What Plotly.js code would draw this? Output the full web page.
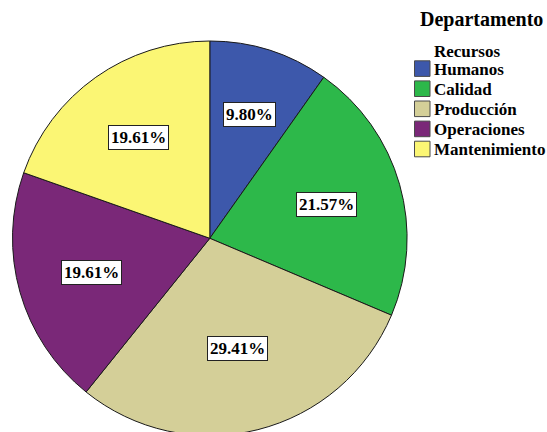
<!DOCTYPE html>
<html>
<head>
<meta charset="utf-8">
<script src="https://cdn.plot.ly/plotly-3.0.1.min.js"></script>
<style>
html, body { margin: 0; padding: 0; overflow: hidden; background: #ffffff; }
#chart { width: 547px; height: 440px; }
</style>
</head>
<body>
<div id="chart"></div>
<script>
// ---- data ----
const categories = ['Recursos Humanos', 'Calidad', 'Producción', 'Operaciones', 'Mantenimiento'];
const counts = [5, 11, 15, 10, 10];
const colors = ['#3D58AB', '#2DB84A', '#D4CF98', '#7A2878', '#FBF674'];
const legendTitle = 'Departamento';

// ---- layout geometry (pixels) ----
const W = 547, H = 440;
const cx = 209.8, cy = 238.3, R = 197.3;
const px = x => x / W;
const py = y => 1 - y / H;
const SERIF = 'Liberation Serif, Times New Roman, serif';

const total = counts.reduce((a, b) => a + b, 0);
const annotations = [];
const shapes = [];

// percentage labels placed at each slice's centroid (computed from the values)
let cum = 0;
counts.forEach((v, i) => {
  const frac = v / total;
  const half = frac * Math.PI;
  const mid = (cum + frac / 2) * 2 * Math.PI;
  const rc = 2 * R * Math.sin(half) / (3 * half);
  cum += frac;
  annotations.push({
    xref: 'paper', yref: 'paper',
    x: px(cx + rc * Math.sin(mid)), y: py(cy - rc * Math.cos(mid)),
    xanchor: 'center', yanchor: 'middle',
    text: '<b>' + (frac * 100).toFixed(2) + '%</b>',
    showarrow: false,
    font: { family: SERIF, size: 17, color: '#000' },
    bgcolor: '#ffffff', bordercolor: '#222222', borderwidth: 1, borderpad: 2
  });
});

// legend (built from the categories)
annotations.push({
  xref: 'paper', yref: 'paper', x: px(481.5), y: py(19),
  xanchor: 'center', yanchor: 'middle', showarrow: false,
  text: '<b>' + legendTitle + '</b>',
  font: { family: SERIF, size: 20, color: '#000' }
});
const lineGap = 18.5, itemGap = 20.1, firstCenter = 68.6;
categories.forEach((c, i) => {
  const yc = firstCenter + itemGap * i;
  shapes.push({
    type: 'rect', xref: 'paper', yref: 'paper',
    x0: px(414.5), x1: px(430), y0: py(yc - 7.8), y1: py(yc + 7.8),
    fillcolor: colors[i], line: { color: '#4a4a4a', width: 1 }
  });
  const lines = c.indexOf(' ') >= 0 ? c.split(' ') : [c];
  lines.forEach((t, k) => {
    annotations.push({
      xref: 'paper', yref: 'paper',
      x: px(432.5), y: py(yc + 1 - lineGap * (lines.length - 1 - k)),
      xanchor: 'left', yanchor: 'middle', showarrow: false, borderpad: 0,
      text: '<b>' + t + '</b>',
      font: { family: SERIF, size: 17, color: '#000' }
    });
  });
});

const trace = {
  type: 'pie',
  labels: categories,
  values: counts,
  sort: false,
  direction: 'clockwise',
  rotation: 0,
  textinfo: 'none',
  hoverinfo: 'label+percent',
  marker: { colors: colors, line: { color: '#1a1a1a', width: 1 } },
  domain: { x: [px(cx - R), px(cx + R)], y: [py(cy + R), py(cy - R)] },
  showlegend: false
};

const layout = {
  width: W, height: H,
  margin: { l: 0, r: 0, t: 0, b: 0 },
  paper_bgcolor: '#ffffff',
  plot_bgcolor: '#ffffff',
  showlegend: false,
  annotations: annotations,
  shapes: shapes
};

Plotly.newPlot('chart', [trace], layout, { displayModeBar: false, staticPlot: true });
</script>
</body>
</html>
